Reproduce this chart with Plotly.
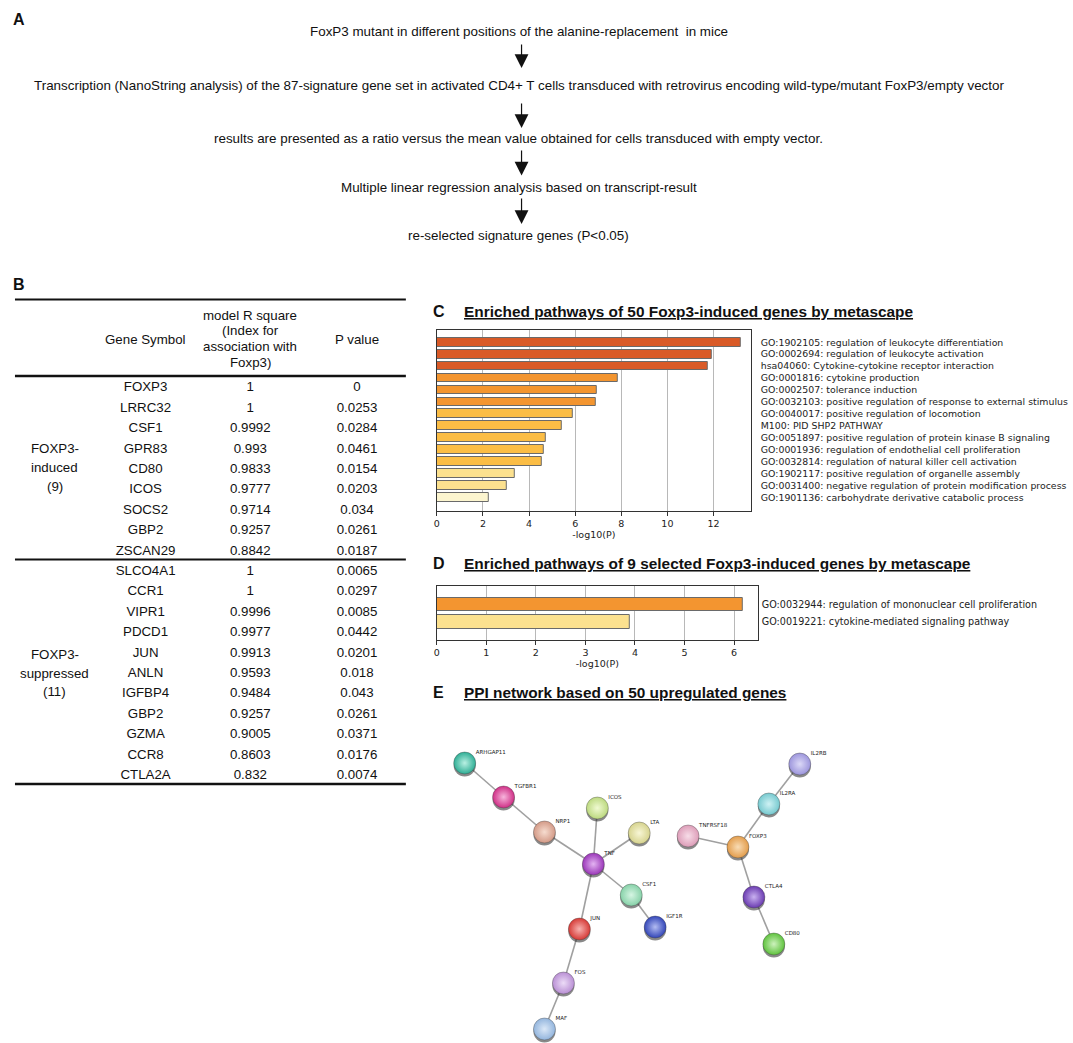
import plotly.graph_objects as go

W, H = 1073, 1043

# ---------------- data ----------------
flow_steps = [
    "FoxP3 mutant in different positions of the alanine-replacement  in mice",
    "Transcription (NanoString analysis) of the 87-signature gene set in activated CD4+ T cells transduced with retrovirus encoding wild-type/mutant FoxP3/empty vector",
    "results are presented as a ratio versus the mean value obtained for cells transduced with empty vector.",
    "Multiple linear regression analysis based on transcript-result",
    "re-selected signature genes (P<0.05)",
]

induced_genes = ["FOXP3", "LRRC32", "CSF1", "GPR83", "CD80", "ICOS", "SOCS2", "GBP2", "ZSCAN29"]
induced_r2 = [1, 1, 0.9992, 0.993, 0.9833, 0.9777, 0.9714, 0.9257, 0.8842]
induced_p = [0, 0.0253, 0.0284, 0.0461, 0.0154, 0.0203, 0.034, 0.0261, 0.0187]
suppressed_genes = ["SLCO4A1", "CCR1", "VIPR1", "PDCD1", "JUN", "ANLN", "IGFBP4", "GBP2", "GZMA", "CCR8", "CTLA2A"]
suppressed_r2 = [1, 1, 0.9996, 0.9977, 0.9913, 0.9593, 0.9484, 0.9257, 0.9005, 0.8603, 0.832]
suppressed_p = [0.0065, 0.0297, 0.0085, 0.0442, 0.0201, 0.018, 0.043, 0.0261, 0.0371, 0.0176, 0.0074]
header_gene = "Gene Symbol"
header_r2 = ["model R square", "(Index for", "association with", "Foxp3)"]
header_p = "P value"
group_induced = ["FOXP3-", "induced", "(9)"]
group_suppressed = ["FOXP3-", "suppressed", "(11)"]

c_title = "Enriched pathways of 50 Foxp3-induced genes by metascape"
c_terms = [
    "GO:1902105: regulation of leukocyte differentiation",
    "GO:0002694: regulation of leukocyte activation",
    "hsa04060: Cytokine-cytokine receptor interaction",
    "GO:0001816: cytokine production",
    "GO:0002507: tolerance induction",
    "GO:0032103: positive regulation of response to external stimulus",
    "GO:0040017: positive regulation of locomotion",
    "M100: PID SHP2 PATHWAY",
    "GO:0051897: positive regulation of protein kinase B signaling",
    "GO:0001936: regulation of endothelial cell proliferation",
    "GO:0032814: regulation of natural killer cell activation",
    "GO:1902117: positive regulation of organelle assembly",
    "GO:0031400: negative regulation of protein modification process",
    "GO:1901136: carbohydrate derivative catabolic process",
]
c_values = [13.16, 11.92, 11.74, 7.84, 6.92, 6.90, 5.91, 5.40, 4.74, 4.65, 4.55, 3.40, 3.03, 2.25]
c_ticks = [0, 2, 4, 6, 8, 10, 12]

d_title = "Enriched pathways of 9 selected Foxp3-induced genes by metascape"
d_terms = [
    "GO:0032944: regulation of mononuclear cell proliferation",
    "GO:0019221: cytokine-mediated signaling pathway",
]
d_values = [6.18, 3.89]
d_ticks = [0, 1, 2, 3, 4, 5, 6]
axis_label = "-log10(P)"

e_title = "PPI network based on 50 upregulated genes"
ppi_genes = ["ARHGAP11", "TGFBR1", "NRP1", "ICOS", "LTA", "TNF", "CSF1", "IGF1R", "JUN",
             "FOS", "MAF", "TNFRSF18", "FOXP3", "IL2RA", "IL2RB", "CTLA4", "CD80"]
ppi_x = [463, 502, 543, 596, 638, 592, 630, 654, 578, 562, 543, 687, 737, 768, 799, 753, 773]
ppi_y = [763, 797, 832, 808, 833, 864, 895, 927, 929, 983, 1029, 836, 847, 804, 764, 897, 944]
ppi_edges = [("ARHGAP11", "TGFBR1"), ("TGFBR1", "NRP1"), ("NRP1", "TNF"), ("ICOS", "TNF"),
             ("LTA", "TNF"), ("TNF", "CSF1"), ("CSF1", "IGF1R"), ("TNF", "JUN"), ("JUN", "FOS"),
             ("FOS", "MAF"), ("TNFRSF18", "FOXP3"), ("FOXP3", "IL2RA"), ("IL2RA", "IL2RB"),
             ("FOXP3", "CTLA4"), ("CTLA4", "CD80")]

# ---------------- styles ----------------
node_colors = ["#2fae95", "#cf2f86", "#d39a87", "#bcd97f", "#d6d38e", "#9a36b8", "#86d1a8",
               "#3346b8", "#d63a36", "#b98fd4", "#93b5dd", "#dd9db8", "#e39d4c", "#76c9cf",
               "#9c95dc", "#6a3bb0", "#5fc23e"]
node_light = ["#b9f0e3", "#f7b5dc", "#f6dccf", "#f0fad2", "#f8f6d6", "#e3b3f2", "#d6f5e3",
              "#b3bcf2", "#f7b3b1", "#ecdcf7", "#dbe8f7", "#f7dde8", "#f8dcb5", "#cff2f4",
              "#dcd9f7", "#c9b1f0", "#cdf2bd"]


def bin_color(v):
    if v >= 10:
        return "#d95a27"
    if v >= 6:
        return "#f39530"
    if v >= 4:
        return "#fbbd45"
    if v >= 3:
        return "#fce18f"
    return "#fcf5cf"


def pxx(x):
    return x / W


def pxy(y):
    return 1 - y / H


ARIAL = "Liberation Sans, Arial, sans-serif"
DEJAVU = "DejaVu Sans, sans-serif"

fig = go.Figure()

# ---------------- panel C ----------------
fig.add_trace(go.Bar(
    x=c_values, y=list(range(len(c_values))), orientation="h", width=0.73,
    marker=dict(color=[bin_color(v) for v in c_values], line=dict(color="#6a6a6a", width=1)),
    xaxis="x", yaxis="y", showlegend=False, hoverinfo="skip"))

# ---------------- panel D ----------------
fig.add_trace(go.Bar(
    x=d_values, y=list(range(len(d_values))), orientation="h", width=0.79,
    marker=dict(color=[bin_color(v) for v in d_values], line=dict(color="#6a6a6a", width=1)),
    xaxis="x2", yaxis="y2", showlegend=False, hoverinfo="skip"))

# ---------------- panel E ----------------
idx = {g: i for i, g in enumerate(ppi_genes)}
ex, ey = [], []
for a, b in ppi_edges:
    ex += [ppi_x[idx[a]], ppi_x[idx[b]], None]
    ey += [ppi_y[idx[a]], ppi_y[idx[b]], None]
fig.add_trace(go.Scatter(x=ex, y=ey, mode="lines", line=dict(color="#a0a0a0", width=1.6),
                         xaxis="x3", yaxis="y3", showlegend=False, hoverinfo="skip"))
fig.add_trace(go.Scatter(x=ppi_x, y=[v + 2.5 for v in ppi_y], mode="markers",
                         marker=dict(size=22, color="rgba(40,40,40,0.55)", line=dict(width=0)),
                         xaxis="x3", yaxis="y3", showlegend=False, hoverinfo="skip"))
fig.add_trace(go.Scatter(
    x=ppi_x, y=ppi_y, mode="markers",
    marker=dict(size=22, color=node_colors, gradient=dict(type="radial", color=node_light),
                line=dict(width=0.6, color="rgba(60,60,60,0.6)")),
    xaxis="x3", yaxis="y3", showlegend=False, hoverinfo="skip"))
fig.add_trace(go.Scatter(
    x=[v + 11 for v in ppi_x], y=[v - 10 for v in ppi_y], mode="text", text=ppi_genes,
    textposition="middle right", textfont=dict(family=DEJAVU, size=5.5, color="#222"),
    xaxis="x3", yaxis="y3", showlegend=False, hoverinfo="skip"))

# ---------------- panel B (table) ----------------
ROW0, ROWH = 388, 20.4


def row(py):
    return (py - ROW0) / ROWH


genes = induced_genes + suppressed_genes
r2s = induced_r2 + suppressed_r2
ps = induced_p + suppressed_p
rows = list(range(len(genes)))
tfont = dict(family=ARIAL, size=13.3, color="#111")
for colx, vals in [(143, genes), (248, [str(v) for v in r2s]), (355, [str(v) for v in ps])]:
    fig.add_trace(go.Scatter(x=[colx] * len(vals), y=rows, mode="text", text=vals,
                             textposition="middle center", textfont=tfont,
                             xaxis="x4", yaxis="y4", showlegend=False, hoverinfo="skip"))

annotations = []
shapes = []


def tab_text(x, py, t):
    annotations.append(dict(x=x, y=row(py), xref="x4", yref="y4", text=t, showarrow=False,
                            xanchor="center", yanchor="middle", font=tfont))


tab_text(143, 339, header_gene)
tab_text(355, 339, header_p)
for t, py in zip(header_r2, [315, 330.5, 346.5, 362]):
    tab_text(248, py, t)
for t, py in zip(group_induced, [448, 467, 486]):
    tab_text(52, py, t)
for t, py in zip(group_suppressed, [654, 673, 691]):
    tab_text(52, py, t)

for py, lw in [(299.5, 2), (376, 2.5), (559.5, 2), (784, 2.5)]:
    shapes.append(dict(type="line", xref="x4", yref="y4", x0=12, x1=404, y0=row(py), y1=row(py),
                       line=dict(color="#111", width=lw)))

# ---------------- panel A ----------------
for t, py in zip(flow_steps, [31, 85, 138.5, 187, 236]):
    annotations.append(dict(x=pxx(517), y=pxy(py), xref="paper", yref="paper", text=t,
                            showarrow=False, xanchor="center", yanchor="middle",
                            font=dict(family=ARIAL, size=13.4, color="#111")))
for tail, tip in [(43, 68), (102, 128), (149, 175.5), (197, 224)]:
    annotations.append(dict(x=pxx(520), y=pxy(tip), xref="paper", yref="paper", text="",
                            showarrow=True, ax=0, ay=-(tip - tail), arrowhead=2, arrowsize=2.3,
                            arrowwidth=1.2, arrowcolor="#111", standoff=0))

# ---------------- panel letters & titles ----------------
for letter, x, y in [("A", 16, 19), ("B", 16, 284), ("C", 437, 311), ("D", 437, 563), ("E", 437, 692)]:
    annotations.append(dict(x=pxx(x), y=pxy(y), xref="paper", yref="paper", text="<b>%s</b>" % letter,
                            showarrow=False, xanchor="center", yanchor="middle",
                            font=dict(family=ARIAL, size=16, color="#111")))
for t, y in [(c_title, 311), (d_title, 563), (e_title, 692)]:
    annotations.append(dict(x=pxx(460), y=pxy(y), xref="paper", yref="paper",
                            text="<b><u>%s</u></b>" % t, showarrow=False,
                            xanchor="left", yanchor="middle",
                            font=dict(family=ARIAL, size=15.4, color="#111")))

tickfont = dict(family=DEJAVU, size=9.5, color="#222")
common_x = dict(showline=True, mirror=True, linecolor="#333", linewidth=1, ticks="outside",
                ticklen=4, tickcolor="#333", tickfont=tickfont, showgrid=True,
                gridcolor="#b8b8b8", gridwidth=1.3, zeroline=False,
                title=dict(text=axis_label, font=tickfont, standoff=2))
common_y = dict(showline=True, mirror=True, linecolor="#333", linewidth=1, ticks="",
                showgrid=False, zeroline=False, side="right")

fig.update_layout(
    width=W, height=H, margin=dict(l=0, r=0, t=0, b=0),
    paper_bgcolor="white", plot_bgcolor="white", bargap=0,
    xaxis=dict(domain=[pxx(435), pxx(750)], range=[0, 13.62], tickvals=c_ticks, anchor="y", **common_x),
    yaxis=dict(domain=[pxy(511), pxy(330)], range=[14.15, -1.03], anchor="x",
               tickvals=list(range(len(c_terms))), ticktext=c_terms,
               tickfont=dict(family=DEJAVU, size=9.4, color="#222"), ticklabelstandoff=7, **common_y),
    xaxis2=dict(domain=[pxx(435), pxx(757)], range=[0, 6.48], tickvals=d_ticks, anchor="y2", **common_x),
    yaxis2=dict(domain=[pxy(640), pxy(586)], range=[2.05, -1.07], anchor="x2",
                tickvals=list(range(len(d_terms))), ticktext=d_terms,
                tickfont=dict(family=DEJAVU, size=9.6, color="#222"), ticklabelstandoff=1, **common_y),
    xaxis3=dict(domain=[pxx(430), pxx(830)], range=[430, 830], visible=False, anchor="y3"),
    yaxis3=dict(domain=[0, pxy(720)], range=[1043, 720], visible=False, anchor="x3"),
    xaxis4=dict(domain=[0, pxx(420)], range=[0, 420], visible=False, anchor="y4"),
    yaxis4=dict(domain=[pxy(800), pxy(290)], range=[row(800), row(290)], visible=False, anchor="x4"),
    annotations=annotations, shapes=shapes,
)

fig.write_html("out.html", config={"displayModeBar": False},
               post_script="document.body.style.margin='0';document.body.style.overflow='hidden';")
